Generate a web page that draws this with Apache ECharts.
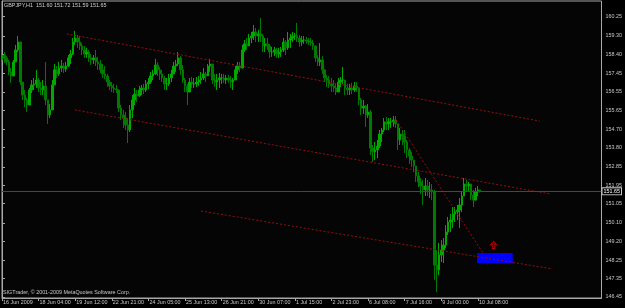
<!DOCTYPE html>
<html><head><meta charset="utf-8">
<script src="https://cdn.jsdelivr.net/npm/echarts@6/dist/echarts.min.js"></script>
<style>html,body{margin:0;padding:0;background:#000;}#c{width:625px;height:308px;}</style>
</head><body><div id="c"></div>
<script>
const symbolName = 'GBPJPY,H1';
const lastQuote = [151.60, 151.72, 151.59, 151.65];
const copyright = 'SIGTrader, \u00A9 2001-2009 MetaQuotes Software Corp.';
const xTickLabels = ['16 Jun 2009','18 Jun 04:00','19 Jun 12:00','22 Jun 21:00','24 Jun 05:00','25 Jun 13:00','26 Jun 21:00','30 Jun 07:00','1 Jul 15:00','2 Jul 23:00','6 Jul 08:00','7 Jul 16:00','9 Jul 00:00','10 Jul 08:00'];
const barsPerTick = 16;
const categoryCount = 263;
const yTickValues = [146.45,147.35,148.25,149.20,150.10,151.05,151.95,152.85,153.80,154.70,155.65,156.55,157.45,158.40,159.30,160.25];
const yMin = 146.40, yMax = 161.02;
const firstOpen = 158.12;
const highs = [
158.61,158.51,158.31,158.12,157.72,158.12,158.86,159.30,158.91,157.03,
156.64,156.25,156.74,157.13,157.23,157.63,157.23,157.03,157.13,158.02,
156.15,155.95,157.13,157.92,157.82,158.02,158.12,157.97,158.02,158.36,
158.61,159.20,159.55,159.35,159.30,158.95,158.81,158.71,158.61,158.41,
158.36,158.61,158.27,158.12,157.92,157.82,157.43,157.13,157.03,156.94,
156.89,156.64,155.90,155.66,155.56,155.26,155.90,156.39,156.74,156.64,
156.84,156.89,156.94,157.13,157.23,157.53,157.63,158.17,158.02,157.77,
157.63,157.33,157.23,157.43,157.63,158.02,158.12,158.51,158.31,157.87,
157.23,156.94,157.23,157.28,157.23,157.28,157.33,157.53,157.72,157.53,
157.92,158.17,157.82,157.43,157.43,157.48,157.43,157.43,157.38,157.38,
157.33,157.23,157.82,158.02,158.02,158.86,159.10,159.20,159.40,159.50,
159.84,159.69,159.60,160.19,159.40,159.20,159.20,158.91,158.76,158.76,
158.71,158.71,158.76,159.20,159.10,159.50,159.40,159.50,159.45,159.94,
159.35,159.30,159.30,159.25,159.20,159.20,159.10,158.81,158.36,158.95,
158.31,157.63,157.38,157.33,157.23,157.13,156.94,157.23,157.28,157.77,
157.03,156.94,156.94,156.99,157.03,157.03,156.74,156.25,156.15,155.90,
155.95,155.66,153.93,154.08,154.18,154.67,154.77,155.26,155.31,155.26,
155.26,155.36,155.36,154.97,154.77,154.67,154.67,154.18,153.78,153.59,
153.19,152.90,152.60,152.31,152.21,152.31,152.21,152.11,152.01,151.72,
148.76,149.11,149.25,149.35,149.99,150.39,150.53,150.88,150.88,150.98,
151.32,151.62,152.31,152.21,152.11,152.01,151.72,151.82,151.91,151.72];
const lows = [
158.02,157.97,157.87,157.38,156.99,157.33,158.02,158.51,156.89,156.15,
155.80,155.56,155.90,156.49,156.64,156.74,156.54,156.39,156.39,155.90,
154.97,155.26,155.66,156.89,157.23,157.33,157.53,157.48,157.53,157.77,
157.92,158.36,158.86,158.71,158.61,158.36,158.22,158.22,158.02,157.87,
157.92,157.82,157.63,157.48,157.23,157.18,156.79,156.64,156.54,156.49,
156.49,155.56,155.16,154.77,154.67,154.03,154.57,155.26,155.90,156.05,
156.30,156.39,156.44,156.54,156.69,156.94,157.13,157.38,157.33,157.13,
157.03,156.64,156.64,156.84,157.03,157.43,157.53,157.82,157.38,156.99,
156.54,155.90,156.54,156.74,156.74,156.79,156.84,156.94,157.13,157.03,
157.33,157.53,156.94,156.79,156.64,156.74,156.94,156.99,156.94,156.99,
156.74,156.64,157.13,157.43,157.53,157.72,158.51,158.61,158.81,158.95,
159.10,159.00,159.00,159.00,158.51,158.51,158.61,158.22,158.27,158.31,
158.22,158.22,158.27,158.51,158.36,158.61,158.71,159.00,159.10,159.00,
158.76,158.81,158.91,158.91,158.86,158.81,158.61,158.02,157.82,157.82,
157.43,157.03,156.79,156.74,156.54,156.54,156.39,156.54,156.79,156.94,
156.39,156.39,156.39,156.44,156.54,156.54,155.90,155.41,155.46,154.82,
155.26,153.44,153.10,153.19,153.29,153.78,154.08,154.57,154.67,154.67,
154.77,154.82,154.77,153.69,153.93,153.93,153.54,153.29,153.00,152.85,
152.60,152.11,151.86,151.52,150.98,151.42,151.42,151.32,151.22,147.29,
146.69,147.53,148.17,148.12,148.86,149.50,149.65,149.85,150.14,150.24,
149.85,150.63,151.47,151.62,151.62,151.22,150.88,151.22,151.42,151.59];
const closes = [
158.36,158.22,158.02,157.53,157.33,158.02,158.61,159.00,157.03,156.39,
156.15,155.90,156.64,156.89,156.94,157.13,156.74,156.64,156.84,156.15,
155.41,155.66,156.89,157.63,157.43,157.72,157.82,157.67,157.82,158.22,
158.41,159.00,159.20,159.00,158.81,158.61,158.41,158.51,158.22,158.12,
158.22,158.02,157.92,157.63,157.43,157.33,157.03,156.84,156.74,156.69,
156.64,155.75,155.41,155.26,154.92,154.67,155.66,156.15,156.44,156.35,
156.64,156.74,156.64,156.94,157.03,157.33,157.43,157.87,157.63,157.43,
157.23,156.94,156.94,157.23,157.43,157.82,157.92,158.22,157.63,157.13,
156.84,156.54,157.03,156.94,156.94,157.03,157.13,157.23,157.43,157.33,
157.82,157.92,157.13,157.03,157.13,157.23,157.23,157.13,157.23,157.13,
157.03,157.13,157.63,157.82,157.72,158.61,158.91,158.81,159.20,159.30,
159.50,159.30,159.40,159.30,158.81,158.91,158.81,158.51,158.51,158.61,
158.41,158.51,158.61,159.00,158.71,159.10,159.20,159.30,159.30,159.20,
159.00,159.10,159.10,159.05,159.00,158.95,158.81,158.22,158.02,158.12,
157.63,157.23,157.13,156.94,156.84,156.74,156.54,157.03,157.13,157.13,
156.74,156.64,156.74,156.64,156.84,156.74,156.15,155.75,155.85,155.41,
155.56,153.78,153.59,153.69,153.88,154.47,154.67,155.07,154.97,155.07,
155.07,155.16,154.97,154.18,154.47,154.38,154.08,153.69,153.39,153.19,
152.90,152.41,152.11,151.91,151.72,151.91,151.72,151.72,151.62,148.02,
147.78,148.52,148.76,149.01,149.65,150.14,150.24,150.53,150.63,150.73,
150.98,151.42,152.01,151.91,152.01,151.47,151.22,151.62,151.72,151.65];
// drawn objects: [barIndex, price]
const channelUpper = [[28.3,159.40],[235.0,155.11]];
const channelMiddle = [[31.8,155.66],[239.8,151.52]];
const channelLower = [[87.0,150.68],[240.6,147.83]];
const diagonalLine = [[172.3,155.16],[210.2,148.61]];
const targetZone = [[207.6,148.61],[223.2,148.12]];
const arrowPoint = [214.8,149.01];
const currentPrice = lastQuote[3];

const FONT = 'Liberation Sans, Arial, sans-serif';
const FS = 5.4;
const categories = [];
for (let i = 0; i < categoryCount; i++) categories.push(String(i));
const ohlc = closes.map((c, i) => {
  const o = i === 0 ? firstOpen : closes[i - 1];
  return [o, c, Math.min(lows[i], o, c), Math.max(highs[i], o, c)];
});
const isTick = (i) => i % barsPerTick === 0 && i / barsPerTick < xTickLabels.length;
const lineSeries = (data) => ({
  type: 'line', xAxisIndex: 1, yAxisIndex: 0, data: data, symbol: 'none', silent: true,
  lineStyle: { color: '#9a0c0c', width: 1, type: [2, 2] }, z: 3
});

const chart = echarts.init(document.getElementById('c'), null, { renderer: 'canvas' });
chart.setOption({
  backgroundColor: '#000000',
  animation: false,
  title: {
    text: symbolName + '  ' + lastQuote.map(v => v.toFixed(2)).join(' '),
    left: 4, top: 3, padding: 0,
    textStyle: { color: '#d0d0d0', fontSize: FS, fontWeight: 'normal', fontFamily: FONT }
  },
  graphic: [{
    type: 'text', left: 3, top: 290,
    style: { text: copyright, fill: '#c8c8c8', font: FS + 'px ' + FONT }
  }],
  grid: { left: 2, right: 22, top: 1, bottom: 10, show: true, borderColor: '#a8a8a8', borderWidth: 1, backgroundColor: '#050506' },
  xAxis: [{
    type: 'category', data: categories, boundaryGap: false,
    axisLine: { lineStyle: { color: '#a8a8a8' } },
    axisTick: { interval: (i) => isTick(i), length: 3, lineStyle: { color: '#a8a8a8' } },
    axisLabel: {
      interval: (i) => isTick(i),
      formatter: (v, i) => isTick(i) ? xTickLabels[i / barsPerTick] : '',
      color: '#c8c8c8', fontSize: FS, fontFamily: FONT, align: 'left', margin: 2, padding: [0, 0, 0, 1]
    },
    splitLine: { show: false }
  }, {
    type: 'value', min: 0, max: categoryCount - 1, show: false
  }],
  yAxis: [{
    type: 'value', position: 'right', min: yMin, max: yMax,
    axisLine: { show: true, lineStyle: { color: '#a8a8a8' } },
    axisTick: { show: true, length: 3, customValues: yTickValues, lineStyle: { color: '#a8a8a8' } },
    axisLabel: { customValues: yTickValues, formatter: (v) => v.toFixed(2), color: '#c8c8c8', fontSize: FS, fontFamily: FONT, margin: 4 },
    splitLine: { show: false }
  }],
  series: [{
    type: 'candlestick', xAxisIndex: 0, yAxisIndex: 0, data: ohlc, barWidth: 2,
    itemStyle: { color: '#00a800', color0: '#007a00', borderColor: '#00a800', borderColor0: '#007a00', borderWidth: 1 },
    markLine: {
      silent: true, symbol: 'none', animation: false,
      lineStyle: { color: '#46464e', type: 'solid', width: 1 },
      label: {
        show: true, position: 'end', distance: 1, formatter: currentPrice.toFixed(2),
        color: '#ffffff', fontSize: FS, fontFamily: FONT, backgroundColor: '#000000',
        borderColor: '#c8c8c8', borderWidth: 1, padding: [1, 1, 0, 1]
      },
      data: [{ yAxis: currentPrice }]
    },
    z: 2
  },
  lineSeries(channelUpper),
  lineSeries(channelMiddle),
  lineSeries(channelLower),
  lineSeries(diagonalLine),
  {
    type: 'line', xAxisIndex: 1, yAxisIndex: 0, data: [], silent: true,
    markArea: {
      silent: true,
      itemStyle: { color: '#0000ff' },
      data: [[{ coord: targetZone[0] }, { coord: targetZone[1] }]]
    },
    z: 1
  },
  {
    type: 'scatter', xAxisIndex: 1, yAxisIndex: 0, data: [arrowPoint], silent: true,
    symbol: 'path://M5,0 L10,5 L7,5 L7,11 L3,11 L3,5 L0,5 Z', symbolSize: [6, 7],
    itemStyle: { color: 'rgba(0,0,0,0)', borderColor: '#e00000', borderWidth: 1 }, z: 4
  }]
});
</script>
</body></html>
